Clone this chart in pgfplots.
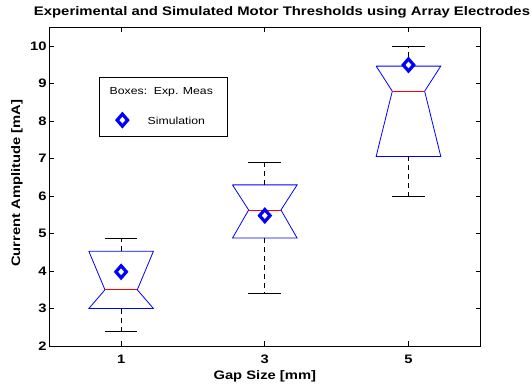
\documentclass[border=0pt]{standalone}
\usepackage{fontspec}
\setmainfont{Liberation Sans}[FakeStretch=1.2]
\usepackage{pgfplots}
\pgfplotsset{compat=1.18}
\begin{document}
\begin{tikzpicture}
\begin{axis}[
  at={(49.3pt,40pt)}, anchor=south west,
  width=431pt, height=318.5pt, scale only axis,
  xmin=0.5, xmax=3.5, ymin=2, ymax=10.5,
  xtick={1,2,3}, xticklabels={1,3,5},
  ytick={2,3,4,5,6,7,8,9,10},
  tick align=inside, major tick length=4.5pt,
  axis line style={line width=0.8pt},
  every tick/.style={black, line width=0.7pt},
  /pgf/number format/assume math mode=true,
  ticklabel style={font=\bfseries\fontsize{12.3}{12}\selectfont},
  xticklabel style={anchor=base, inner sep=0pt, yshift=-17.3pt},
  yticklabel style={anchor=east, inner sep=0pt, xshift=-2.6pt},
  xlabel={Gap Size [mm]},
  ylabel={Current Amplitude [mA]},
  label style={font=\bfseries\fontsize{12.3}{12}\selectfont},
  xlabel style={at={(axis description cs:0.5,0)}, anchor=base, inner sep=0pt, yshift=-34pt},
  ylabel style={at={(axis description cs:-0.0750,0.5115)}, anchor=center, inner sep=0pt},
  legend style={at={(axis description cs:0.1153,0.845)}, anchor=north west,
    draw=black, line width=0.7pt, inner xsep=0pt, inner ysep=0pt,
    font=\fontsize{10.2}{12}\selectfont,
    nodes={inner sep=0pt, text height=16.95pt, text depth=12.35pt},
    row sep=0.65pt},
  legend cell align=left,
  legend image code/.code={\path (-22.7pt,1.7pt) (25pt,1.7pt); \draw[#1] plot coordinates {(0pt,1.7pt)};},
]
% boxes
\addplot[blue, line width=0.8pt, forget plot] coordinates {(0.775,4.53) (0.8875,3.5) (0.775,3.0) (1.225,3.0) (1.1125,3.5) (1.225,4.53) (0.775,4.53)};
\addplot[blue, line width=0.8pt, forget plot] coordinates {(1.775,6.30) (1.8875,5.63) (1.775,4.88) (2.225,4.88) (2.1125,5.63) (2.225,6.30) (1.775,6.30)};
\addplot[blue, line width=0.8pt, forget plot] coordinates {(2.775,9.47) (2.8875,8.8) (2.775,7.06) (3.225,7.06) (3.1125,8.8) (3.225,9.47) (2.775,9.47)};
% medians
\addplot[red, line width=0.8pt, forget plot] coordinates {(0.8875,3.5) (1.1125,3.5)};
\addplot[red, line width=0.8pt, forget plot] coordinates {(1.8875,5.63) (2.1125,5.63)};
\addplot[red, line width=0.8pt, forget plot] coordinates {(2.8875,8.8) (3.1125,8.8)};
% whiskers
\addplot[black, line width=0.7pt, dash pattern=on 5pt off 4pt, forget plot] coordinates {(1,4.53) (1,4.88)};
\addplot[black, line width=0.7pt, dash pattern=on 5pt off 4pt, forget plot] coordinates {(1,3.0) (1,2.4)};
\addplot[black, line width=0.7pt, dash pattern=on 5pt off 4pt, forget plot] coordinates {(2,6.30) (2,6.9)};
\addplot[black, line width=0.7pt, dash pattern=on 5pt off 4pt, forget plot] coordinates {(2,4.88) (2,3.4)};
\addplot[black, line width=0.7pt, dash pattern=on 5pt off 4pt, forget plot] coordinates {(3,9.47) (3,10.0)};
\addplot[black, line width=0.7pt, dash pattern=on 5pt off 4pt, forget plot] coordinates {(3,7.06) (3,6.0)};
% caps
\addplot[black, line width=0.7pt, forget plot] coordinates {(0.8865,4.88) (1.1135,4.88)};
\addplot[black, line width=0.7pt, forget plot] coordinates {(0.8865,2.4) (1.1135,2.4)};
\addplot[black, line width=0.7pt, forget plot] coordinates {(1.8865,6.9) (2.1135,6.9)};
\addplot[black, line width=0.7pt, forget plot] coordinates {(1.8865,3.4) (2.1135,3.4)};
\addplot[black, line width=0.7pt, forget plot] coordinates {(2.8865,10.0) (3.1135,10.0)};
\addplot[black, line width=0.7pt, forget plot] coordinates {(2.8865,6.0) (3.1135,6.0)};
% legend header
\addlegendimage{empty legend}
\addlegendentry{\makebox[80pt][l]{\hspace*{-38pt}Boxes:\ \ Exp. Meas}}
% simulation
\addplot[only marks, mark=square*, mark size=3.7pt,
  mark options={draw=blue, fill=white, line width=3.2pt, solid, yscale=1.15, rotate=45}]
  coordinates {(1,3.98) (2,5.48) (3,9.5)};
\addlegendentry{\makebox[80pt][l]{Simulation}}
\end{axis}
\node[anchor=base, inner sep=0pt, font=\bfseries\fontsize{12.4}{12}\selectfont] at (282pt,370.3pt) {Experimental and Simulated Motor Thresholds using Array Electrodes};
\pgfresetboundingbox
\path[use as bounding box] (0pt,0pt) rectangle (531pt,386pt);
\end{tikzpicture}
\end{document}
